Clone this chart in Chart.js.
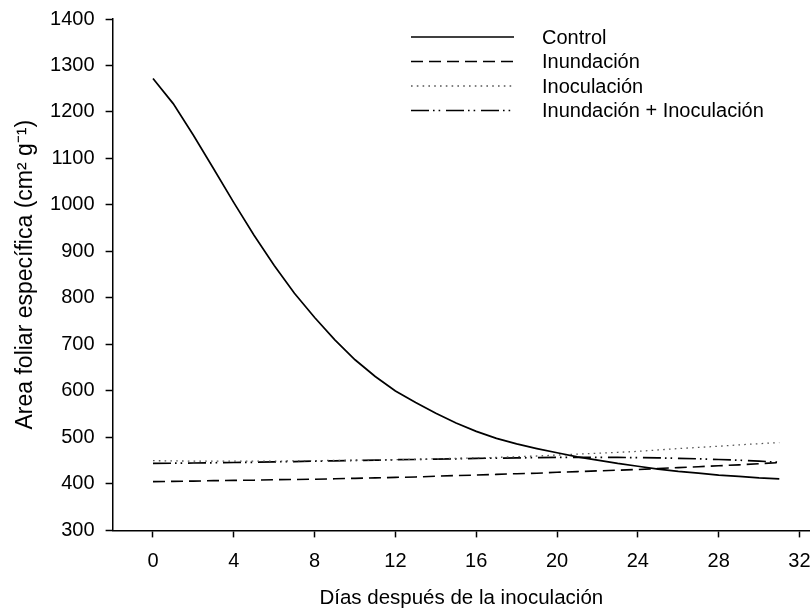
<!DOCTYPE html>
<html>
<head>
<meta charset="utf-8">
<script src="https://cdn.jsdelivr.net/npm/chart.js@4.4.1/dist/chart.umd.min.js"></script>
<style>
  html, body { margin: 0; padding: 0; background: #fff; }
  #wrap { width: 810px; height: 609px; }
</style>
</head>
<body>
<div id="wrap"><canvas id="myChart"></canvas></div>
<script>
// days after inoculation
const days = [0,1,2,3,4,5,6,7,8,9,10,11,12,13,14,15,16,17,18,19,20,21,22,23,24,25,26,27,28,29,30,31];

// values (cm2 g-1)
const control = [1272,1218,1150,1078,1005,935,870,810,758,710,667,631,600,575,552,531,513,498,486,476,467,458,451,444,438,432,427,423,419,416,413,411];
const inundacion = [405,405.5,406,407,407.5,408,409,409.5,410,411,412,413,414,415,416.5,418,419,420.5,422,423,425,426.5,428,429.5,431,433,435,437,439,441,443.5,446];
const inoculacion = [450,449.5,449,449,449,449,449,449.5,450,450.5,451,451.5,452,453,454,455,456,457,458.5,460,462,464,466,468,470,473,476,478.5,481,484,486.5,489];
const inundInoc = [444,444.5,445,445.5,446,446.5,447.5,448,449,449.5,450.5,451,452,452.5,453.5,454,455,455.5,456,456.5,457,457,457,457,456.5,456,455,454,452.5,451,449,446.5];

const labels = ['Control', 'Inundación', 'Inoculación', 'Inundación + Inoculación'];
const xTicks = [0,4,8,12,16,20,24,28,32];
const yTicks = [300,400,500,600,700,800,900,1000,1100,1200,1300,1400];

const toPts = arr => arr.map((v, i) => ({ x: days[i], y: v }));

Chart.defaults.font.family = "'Liberation Sans', Arial, sans-serif";
Chart.defaults.font.size = 20;
Chart.defaults.color = '#000';

// legend drawn as line samples, like the original figure
const lineLegend = {
  id: 'lineLegend',
  afterDraw(chart) {
    const ctx = chart.ctx;
    const rows = [37, 61.5, 86, 110.5];
    ctx.save();
    chart.data.datasets.forEach((ds, i) => {
      ctx.beginPath();
      ctx.setLineDash(ds.borderDash || []);
      ctx.strokeStyle = ds.borderColor;
      ctx.lineWidth = ds.borderWidth;
      ctx.moveTo(411, rows[i]);
      ctx.lineTo(514, rows[i]);
      ctx.stroke();
      ctx.setLineDash([]);
      ctx.fillStyle = '#000';
      ctx.font = "20px 'Liberation Sans', Arial, sans-serif";
      ctx.textBaseline = 'middle';
      ctx.fillText(ds.label, 542, rows[i] + 1);
    });
    ctx.restore();
  }
};

const ctx = document.getElementById('myChart').getContext('2d');

const data = {
  datasets: [
    { label: labels[0], data: toPts(control), borderColor: '#000', borderWidth: 1.7, borderDash: [] },
    { label: labels[1], data: toPts(inundacion), borderColor: '#000', borderWidth: 1.6, borderDash: [12, 6] },
    { label: labels[2], data: toPts(inoculacion), borderColor: '#555', borderWidth: 1.3, borderDash: [1.6, 4.2] },
    { label: labels[3], data: toPts(inundInoc), borderColor: '#000', borderWidth: 1.7, borderDash: [18, 4, 1.6, 4, 1.6, 5.8] }
  ]
};

const config = {
  type: 'line',
  data: data,
  options: {
    responsive: true,
    maintainAspectRatio: false,
    animation: false,
    layout: { padding: { top: 19, right: 0, bottom: -2, left: 0 } },
    elements: { point: { radius: 0 }, line: { tension: 0, fill: false } },
    plugins: { legend: { display: false }, tooltip: { enabled: false } },
    scales: {
      x: {
        type: 'linear',
        min: -2,
        max: 32.52,
        afterBuildTicks: s => { s.ticks = xTicks.map(v => ({ value: v })); },
        afterFit: s => { s.paddingRight = 0; s.paddingLeft = 0; },
        ticks: { padding: 12, maxRotation: 0, callback: v => String(v) },
        grid: { drawOnChartArea: false, drawTicks: true, tickLength: 7, tickWidth: 1.5, color: '#000' },
        border: { display: true, color: '#000', width: 1.5 },
        title: { display: true, text: 'Días después de la inoculación', font: { size: 20.5 }, padding: { top: 1, bottom: 0 } }
      },
      y: {
        min: 300,
        max: 1400,
        afterBuildTicks: s => { s.ticks = yTicks.map(v => ({ value: v })); },
        afterFit: s => { s.paddingTop = 0; s.paddingBottom = 0; },
        ticks: { padding: 11, callback: v => String(v) },
        grid: { drawOnChartArea: false, drawTicks: true, tickLength: 7, tickWidth: 1.5, color: '#000' },
        border: { display: true, color: '#000', width: 1.5 },
        title: { display: true, text: 'Area foliar específica (cm² g⁻¹)', font: { size: 23 }, padding: { top: 11.5, bottom: 0 } }
      }
    }
  },
  plugins: [lineLegend]
};

const myChart = new Chart(ctx, config);
</script>
</body>
</html>
